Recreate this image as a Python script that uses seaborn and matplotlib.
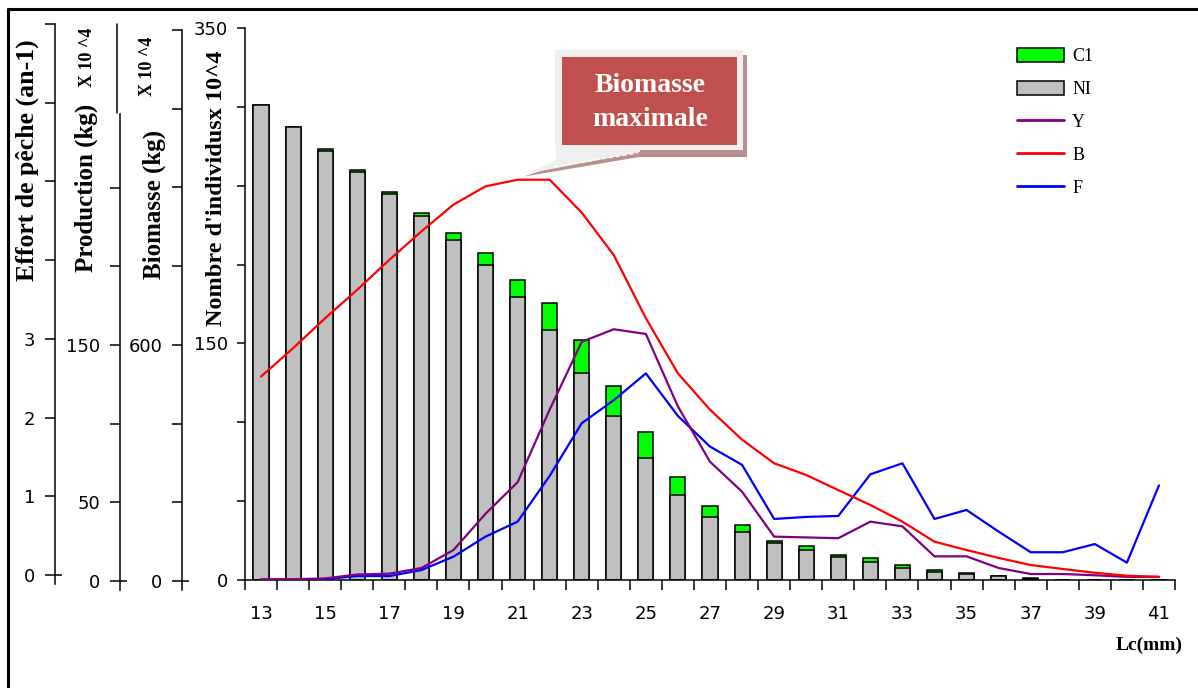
import numpy as np
import pandas as pd
import matplotlib
matplotlib.use("Agg")
import matplotlib.pyplot as plt
import seaborn as sns
from matplotlib.patches import Rectangle, Polygon, Patch
from matplotlib.lines import Line2D
from matplotlib.ticker import FixedLocator
import matplotlib.transforms as mtransforms

# ---------------- data ----------------
lc = list(range(13, 42))
ni = [301, 287, 272, 258.7, 244.7, 230.6, 215.7, 199.5, 179.4, 158.6, 131.2, 103.7,
      77.2, 54, 40.2, 30.7, 23.3, 19, 14.8, 11.6, 7.4, 5.3, 3.6, 2.3, 0.8, 0, 0, 0, 0]
c1 = [0, 0, 1.5, 1.5, 1.3, 2.1, 4.3, 7.8, 11, 17, 21.1, 19, 16.9, 11.6, 6.8, 4.2,
      1.4, 2.6, 1.1, 2.6, 2.1, 1.0, 1.0, 0.2, 0.7, 0, 0, 0, 0]
y_prod = [0.5, 0.5, 1, 3.5, 4, 7.6, 19, 42, 62, 108, 151, 159, 156, 110, 75, 56,
          27.5, 27, 26.5, 37, 34, 15, 15, 7.6, 3.8, 3.8, 3, 2, 2]
b_bio = [129, 147, 166, 184, 203, 221, 238, 249.6, 253.8, 253.8, 233, 206, 166, 131,
         108, 89, 74, 66.6, 57, 47.6, 37, 24.3, 19, 14, 9.5, 7, 4.6, 2.7, 2]
f_eff = [0, 0, 0.5, 2.5, 2.5, 6.3, 14.8, 27.5, 37, 66, 99.4, 114, 131, 104, 84.6, 73,
         38.7, 40, 40.6, 67, 74, 38.7, 44.4, 30.7, 17.6, 17.6, 22.8, 11, 60]

legend_labels = ["C1", "NI", "Y", "B", "F"]
x_tick_labels = [str(v) for v in lc[::2]]

# ---------------- style ----------------
sns.set_theme(style="white", rc={
    "axes.edgecolor": "black", "xtick.color": "black", "ytick.color": "black",
    "text.color": "black", "axes.labelcolor": "black",
    "xtick.bottom": True, "ytick.left": True,
})
plt.rcParams["font.family"] = ["DejaVu Sans"]

W, H = 1198, 688
fig = plt.figure(figsize=(W / 100, H / 100), dpi=100)
fig.patch.set_facecolor("white")
tpx = mtransforms.Affine2D().scale(1, -1).translate(0, H)  # pixel coords from top-left


def fx(x):
    return x / W


def fy(y):
    return 1 - y / H


# ---------------- main axes ----------------
ax = fig.add_axes([fx(245), fy(580), (1175 - 245) / W, (580 - 28) / H])
df = pd.DataFrame({"Lc": lc, "NI": ni, "C1": c1})
df["total"] = df["NI"] + df["C1"]
pos = np.arange(len(lc))

sns.barplot(data=df, x="Lc", y="total", color="#00FF00", saturation=1, width=0.47,
            edgecolor="black", linewidth=1.1, ax=ax, zorder=2)
sns.barplot(data=df, x="Lc", y="NI", color="#C0C0C0", saturation=1, width=0.47,
            edgecolor="black", linewidth=1.1, ax=ax, zorder=2)

sns.lineplot(x=pos, y=f_eff, color="#0000FF", linewidth=1.6, ax=ax, legend=False, zorder=3)
sns.lineplot(x=pos, y=y_prod, color="#800080", linewidth=1.6, ax=ax, legend=False, zorder=3)
sns.lineplot(x=pos, y=b_bio, color="#FF0000", linewidth=1.6, ax=ax, legend=False, zorder=3)

ax.set_xlim(-0.5, len(lc) - 0.5)
ax.set_ylim(0, 350)
ax.set_xlabel("")
ax.set_ylabel("")
ax.patch.set_visible(False)
for s in ["top", "right"]:
    ax.spines[s].set_visible(False)
for s in ["left", "bottom"]:
    ax.spines[s].set_linewidth(1.1)

ax.set_xticks(np.arange(-0.5, len(lc), 1.0))
ax.set_xticklabels([])
ax.set_xticks(pos[::2], minor=True)
ax.set_xticklabels(x_tick_labels, minor=True)
ax.tick_params(axis="x", which="major", direction="out", length=7, width=1.1)
ax.tick_params(axis="x", which="minor", length=0, pad=18, labelsize=13)

ax.set_yticks(np.arange(0, 351, 50))
ax.set_yticklabels(["0", "", "", "150", "", "", "", "350"])
ax.tick_params(axis="y", which="major", direction="out", length=6, width=1.1, pad=6, labelsize=13)


# ---------------- auxiliary y axes ----------------
def aux(x_px, y0_px, ytop_px, vmax, ticks, labels, ext=9):
    ppu = (y0_px - ytop_px) / vmax
    vmin = -ext / ppu
    a = fig.add_axes([fx(x_px), fy(y0_px + ext), 0.0001, (y0_px + ext - ytop_px) / H])
    a.set_ylim(vmin, vmax)
    a.set_xticks([])
    a.patch.set_visible(False)
    for s in ["top", "right", "bottom"]:
        a.spines[s].set_visible(False)
    a.spines["left"].set_linewidth(1.1)
    a.set_yticks(ticks)
    a.set_yticklabels(labels)
    a.yaxis.remove_overlapping_locs = False
    a.yaxis.set_minor_locator(FixedLocator([0]))
    a.tick_params(axis="y", which="minor", direction="in", length=5, width=1.1)
    a.tick_params(axis="y", which="major", direction="out", length=7, width=1.1, pad=7, labelsize=13)
    return a


aux(55, 575, 24, 7, np.arange(0, 8, 1), ["0", "1", "2", "3", "", "", "", ""])
aux(120, 581, 114, 296.8, np.arange(0, 251, 50), ["0", "50", "", "150", "", ""])
aux(182, 581, 30, 1400, np.arange(0, 1401, 200), ["0", "", "", "600", "", "", "", ""])
fig.add_artist(Line2D([117, 117], [24, 113], color="black", lw=1.1, transform=tpx))

# ---------------- axis titles ----------------
serif = "Liberation Serif"
fig.text(27, 160, "Effort de pêche (an-1)", rotation=90, ha="center", va="center",
         family=serif, weight="bold", fontsize=18.5, transform=tpx)
fig.text(86, 188, "Production (kg)", rotation=90, ha="center", va="center",
         family=serif, weight="bold", fontsize=18, transform=tpx)
fig.text(88, 57, "X 10 ^4", rotation=90, ha="center", va="center",
         family=serif, weight="bold", fontsize=13, transform=tpx)
fig.text(154, 204, "Biomasse (kg)", rotation=90, ha="center", va="center",
         family=serif, weight="bold", fontsize=18, transform=tpx)
fig.text(148, 66, "X 10 ^4", rotation=90, ha="center", va="center",
         family=serif, weight="bold", fontsize=13, transform=tpx)
fig.text(216, 188, "Nombre d'individusx 10^4", rotation=90, ha="center", va="center",
         family=serif, weight="bold", fontsize=17.5, transform=tpx)
fig.text(1149, 645, "Lc(mm)", ha="center", va="center", family=serif, weight="bold",
         fontsize=14, transform=tpx)

# ---------------- legend ----------------
handles = [
    Patch(facecolor="#00FF00", edgecolor="black", linewidth=1.1, label=legend_labels[0]),
    Patch(facecolor="#C0C0C0", edgecolor="black", linewidth=1.1, label=legend_labels[1]),
    Line2D([], [], color="#800080", lw=2, label=legend_labels[2]),
    Line2D([], [], color="#FF0000", lw=2, label=legend_labels[3]),
    Line2D([], [], color="#0000FF", lw=2, label=legend_labels[4]),
]
fig.legend(handles=handles, loc="upper left", bbox_to_anchor=(fx(1017), fy(48)),
           frameon=False, borderpad=0, borderaxespad=0, handlelength=2.6,
           handleheight=0.85, handletextpad=0.45, labelspacing=0.85,
           prop={"family": serif, "size": 13})

# ---------------- callout "Biomasse maximale" ----------------
imax = int(np.argmax(b_bio))
tip_disp = ax.transData.transform((imax + 0.2, max(b_bio) + 2))
tip = (tip_disp[0], H - tip_disp[1])

fig.add_artist(Rectangle((560, 55), 187, 102, facecolor="#B88E8E", edgecolor="none",
                         transform=tpx, zorder=6))
fig.add_artist(Rectangle((555, 50), 188, 100, facecolor="#EFEFEF", edgecolor="none",
                         transform=tpx, zorder=6))
fig.add_artist(Polygon([tip, (645, 156), (645, 150), (600, 150)], closed=True,
                       facecolor="#B88E8E", edgecolor="none", transform=tpx, zorder=6))
fig.add_artist(Polygon([(tip[0] + 4, tip[1] - 3), (640, 152), (640, 146), (556, 146),
                        (556, 160)], closed=True,
                       facecolor="#EFEFEF", edgecolor="none", transform=tpx, zorder=6))
fig.add_artist(Line2D([tip[0] + 30, 638], [tip[1] - 10, 153], color="white", lw=1,
                      ls=(0, (3, 2)), transform=tpx, zorder=6))
fig.add_artist(Rectangle((562, 57), 175, 88, facecolor="#C0504D", edgecolor="none",
                         transform=tpx, zorder=7))
fig.text(650, 86, "Biomasse", ha="center", va="center", color="white", family=serif,
         weight="bold", fontsize=20, transform=tpx, zorder=8)
fig.text(650, 120, "maximale", ha="center", va="center", color="white", family=serif,
         weight="bold", fontsize=20, transform=tpx, zorder=8)

# ---------------- outer frame (left and top edges) ----------------
fig.add_artist(Line2D([8, 8], [9, H], color="black", lw=2.2, transform=tpx))
fig.add_artist(Line2D([8, W], [9, 9], color="black", lw=2.2, transform=tpx))

fig.savefig("out.png", dpi=100)
